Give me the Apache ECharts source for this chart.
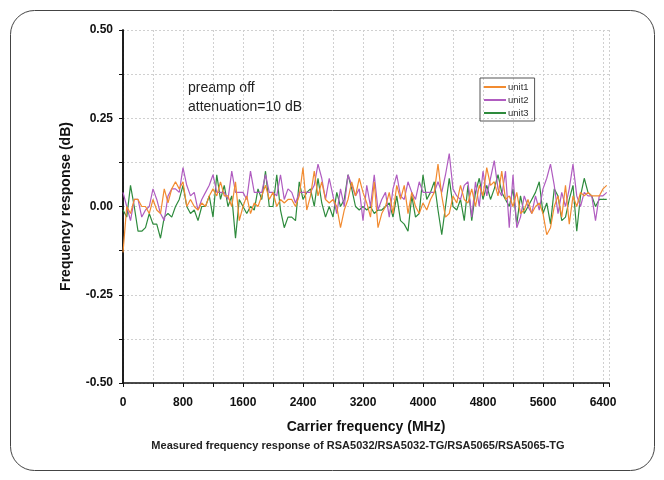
<!DOCTYPE html>
<html>
<head>
<meta charset="utf-8">
<script src="https://cdn.jsdelivr.net/npm/echarts@6/dist/echarts.min.js"></script>
<style>
html,body{margin:0;padding:0;background:#fff;}
#chart{width:664px;height:480px;}
</style>
</head>
<body>
<div id="chart"></div>
<script>
// Frequencies (MHz), 50 MHz steps
var stepMHz = 50;
var pointCount = 130;
var freqs = [];
for (var i = 0; i < pointCount; i++) freqs.push(i * stepMHz);

var unit1 = [-0.13,0.0,-0.02,0.02,0.02,0.0,0.0,-0.02,0.02,-0.01,
-0.02,0.05,0.01,0.05,0.07,0.05,0.07,0.0,0.02,0.0,
-0.01,0.01,0.0,0.03,0.05,0.03,0.07,0.03,0.03,0.0,
0.07,-0.04,0.0,0.03,-0.02,0.01,0.0,0.03,0.06,0.02,
0.04,0.0,0.02,0.01,0.02,0.02,0.0,0.03,0.11,-0.01,
0.03,0.10,0.03,0.07,0.02,0.01,0.02,0.0,-0.06,-0.01,
0.02,0.07,0.03,0.08,0.04,0.01,-0.03,0.07,-0.06,-0.02,
0.0,0.04,-0.02,0.06,0.02,0.06,-0.02,0.04,0.0,-0.02,
0.01,-0.01,0.02,0.04,0.12,0.03,-0.03,-0.02,0.03,0.01,
0.06,0.02,0.01,0.05,0.0,0.06,0.03,0.11,0.06,0.07,
0.03,0.10,0.02,0.03,0.0,0.04,-0.02,-0.01,0.02,-0.02,
0.0,0.01,-0.02,-0.08,-0.06,0.0,0.03,-0.03,0.06,-0.05,
0.03,0.0,0.04,0.03,0.04,0.03,0.03,0.03,0.05,0.06];

var unit2 = [0.04,0.0,-0.04,0.02,0.02,-0.03,-0.01,0.0,0.05,0.02,
-0.02,-0.04,0.03,0.05,0.05,0.04,0.11,0.06,0.03,0.04,
-0.01,0.02,0.04,0.06,0.09,0.04,0.04,0.04,0.02,0.10,
0.04,0.04,0.04,0.02,0.10,0.04,0.04,0.04,0.09,0.04,
0.04,0.03,0.09,0.02,0.05,0.04,0.01,0.04,0.04,0.04,
0.04,0.06,0.12,0.08,0.02,0.08,0.03,-0.02,0.05,0.0,
0.09,0.06,0.03,0.05,-0.04,0.06,0.0,0.09,-0.01,0.02,
0.04,-0.03,0.05,0.09,0.03,0.02,0.07,0.04,0.02,0.07,
0.04,0.04,0.04,0.04,0.07,0.04,0.09,0.15,0.05,0.03,
0.02,0.06,0.07,-0.03,0.07,0.0,0.10,0.03,0.08,0.13,
0.05,0.03,0.10,-0.06,0.09,-0.06,-0.03,0.03,0.0,-0.02,
0.03,-0.01,0.05,0.08,0.12,0.06,-0.02,0.04,0.0,0.05,
0.12,0.03,0.0,0.04,0.03,0.03,-0.04,0.03,0.03,0.04];

var unit3 = [-0.01,-0.03,0.06,0.0,-0.07,-0.07,-0.06,-0.02,-0.05,-0.05,
-0.09,-0.03,-0.02,-0.03,0.0,0.02,0.06,0.0,-0.02,-0.01,
-0.04,0.0,0.0,0.03,-0.03,0.09,0.02,0.06,0.0,0.03,
-0.09,0.02,0.0,-0.02,0.0,-0.01,0.05,0.02,0.10,0.0,
0.0,0.09,-0.01,-0.06,-0.03,-0.03,-0.04,0.07,0.02,0.04,
0.05,0.0,0.08,0.01,-0.03,0.0,-0.03,0.04,0.0,0.02,
0.09,0.05,0.0,-0.01,0.0,-0.01,0.0,-0.02,-0.01,-0.01,
0.0,0.01,-0.03,0.03,-0.04,-0.05,-0.07,0.03,-0.03,-0.02,
0.09,0.02,0.04,0.07,-0.01,-0.08,0.0,0.08,0.0,-0.01,
0.02,-0.04,0.06,-0.04,0.04,0.08,0.02,0.06,0.02,0.05,
0.09,0.04,0.02,0.0,0.05,-0.05,0.03,-0.02,0.0,0.02,
0.04,0.07,-0.02,0.01,-0.05,0.05,0.03,-0.04,-0.03,0.02,
0.06,-0.07,0.03,0.08,0.04,0.03,0.0,0.02,0.02,0.02];

var seriesNames = ['unit1', 'unit2', 'unit3'];
var seriesColors = ['#f28b30', '#b05cc0', '#2e8b3d'];
var yLabelValues = [-0.5, -0.25, 0, 0.25, 0.5];
var xLabelValues = [0, 800, 1600, 2400, 3200, 4000, 4800, 5600, 6400];

function pairs(arr) {
  return arr.map(function (v, i) { return [freqs[i], v]; });
}
var allData = [unit1, unit2, unit3];

var font = '"Liberation Sans", Arial, sans-serif';
var chart = echarts.init(document.getElementById('chart'), null, {renderer: 'canvas'});
chart.setOption({
  animation: false,
  backgroundColor: '#fff',
  grid: {left: 123, right: 55, top: 30, bottom: 97, containLabel: false},
  xAxis: {
    type: 'value', min: 0, max: 6480, interval: 400,
    name: 'Carrier frequency (MHz)', nameLocation: 'middle', nameGap: 37,
    nameTextStyle: {fontFamily: font, fontWeight: 'bold', fontSize: 14, color: '#111'},
    axisLine: {show: true, onZero: false, lineStyle: {color: '#111', width: 1.5}},
    axisTick: {show: true, length: 4, lineStyle: {color: '#111', width: 1}},
    axisLabel: {
      fontFamily: font, fontWeight: 'bold', fontSize: 12, color: '#111', margin: 14,
      formatter: function (v) { return xLabelValues.indexOf(v) >= 0 ? String(v) : ''; }
    },
    splitLine: {show: true, lineStyle: {color: '#d0d0d0', type: [2, 2], width: 1}}
  },
  yAxis: [{
    type: 'value', min: -0.5, max: 0.5, interval: 0.125,
    name: 'Frequency response (dB)', nameLocation: 'middle', nameGap: 50,
    nameTextStyle: {fontFamily: font, fontWeight: 'bold', fontSize: 14, color: '#111'},
    axisLine: {show: true, onZero: false, lineStyle: {color: '#111', width: 1.5}},
    axisTick: {show: true, length: 4, lineStyle: {color: '#111', width: 1}},
    axisLabel: {
      fontFamily: font, fontWeight: 'bold', fontSize: 12, color: '#111', margin: 10,
      formatter: function (v) {
        for (var k = 0; k < yLabelValues.length; k++) {
          if (Math.abs(v - yLabelValues[k]) < 1e-9) return v.toFixed(2);
        }
        return '';
      }
    },
    splitLine: {show: true, lineStyle: {color: '#d0d0d0', type: [2, 2], width: 1}}
  }, {
    type: 'value', min: -0.5, max: 0.5, position: 'right',
    axisLine: {show: true, lineStyle: {color: '#111', width: 1.5}},
    axisTick: {show: false}, axisLabel: {show: false}, splitLine: {show: false}
  }],
  legend: {
    orient: 'vertical', left: 480, top: 78,
    data: seriesNames,
    itemWidth: 22, itemHeight: 2, itemGap: 3,
    icon: 'rect',
    padding: [4, 6, 3, 4],
    borderColor: '#555', borderWidth: 1,
    textStyle: {fontFamily: font, fontSize: 9.5, color: '#333', padding: [0, 0, 0, -3]}
  },
  graphic: [
    {type: 'rect', shape: {x: 10.5, y: 10.5, width: 644, height: 460, r: 24},
     style: {fill: 'none', stroke: '#444', lineWidth: 1}, silent: true},
    {type: 'text', left: 188, top: 81,
     style: {text: 'preamp off', font: '14px ' + font, fill: '#222'}},
    {type: 'text', left: 188, top: 100,
     style: {text: 'attenuation=10 dB', font: '14px ' + font, fill: '#222'}},
    {type: 'text', x: 358, y: 440,
     style: {text: 'Measured frequency response of RSA5032/RSA5032-TG/RSA5065/RSA5065-TG',
             font: 'bold 11px ' + font, fill: '#222', textAlign: 'center'}}
  ],
  series: allData.map(function (arr, k) {
    return {
      name: seriesNames[k], type: 'line', data: pairs(arr),
      showSymbol: false, symbol: 'none',
      lineStyle: {color: seriesColors[k], width: 1.2},
      itemStyle: {color: seriesColors[k]},
      z: 3 - k
    };
  })
});
</script>
</body>
</html>
